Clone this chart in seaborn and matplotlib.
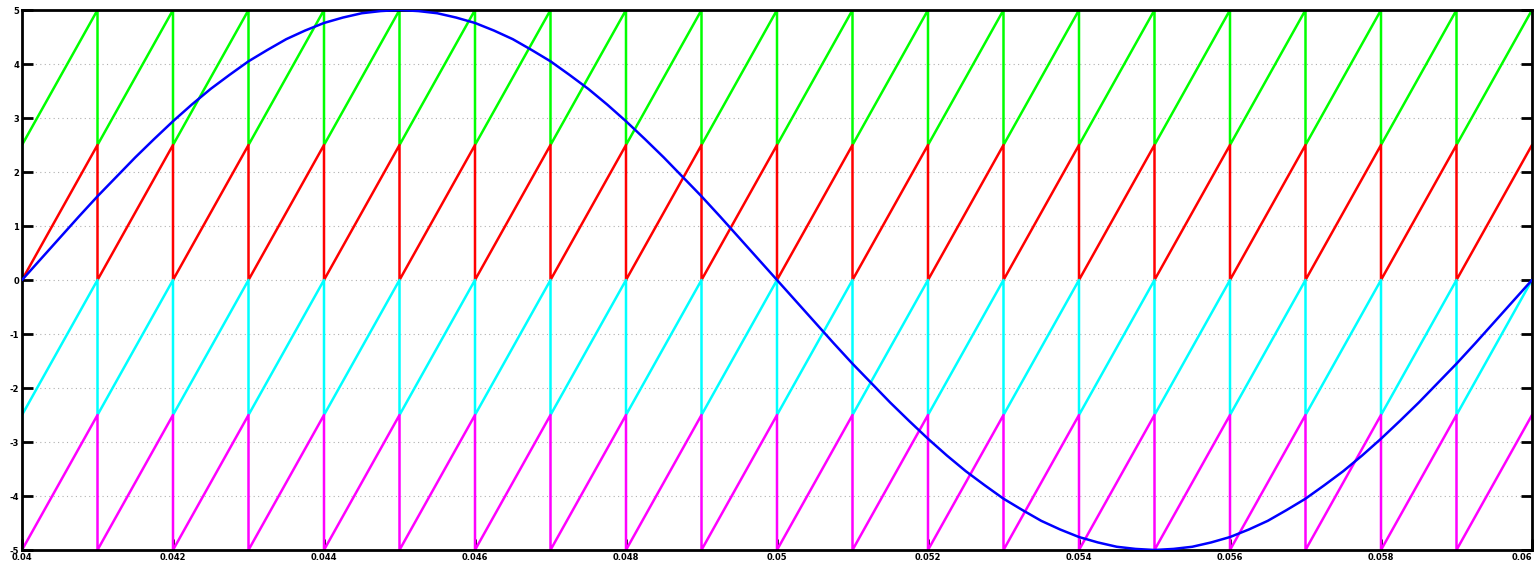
import numpy as np
import pandas as pd
import matplotlib
matplotlib.use("Agg")
import matplotlib.pyplot as plt
import seaborn as sns

# ---- data ----
# carrier reset instants (s)
carrier_times = [0.040, 0.041, 0.042, 0.043, 0.044, 0.045, 0.046, 0.047, 0.048, 0.049,
                 0.050, 0.051, 0.052, 0.053, 0.054, 0.055, 0.056, 0.057, 0.058, 0.059, 0.060]
# carrier bands (lower, upper) and colours
carrier_low = [2.5, 0.0, -2.5, -5.0]
carrier_high = [5.0, 2.5, 0.0, -2.5]
carrier_colors = ["#00ff00", "#ff0000", "#00ffff", "#ff00ff"]

# reference (modulating) signal sampled every 0.25 ms, 0.040 s .. 0.060 s
ref_t0 = 0.040
ref_dt = 0.00025
ref_values = [0.00, 0.39, 0.78, 1.17, 1.55, 1.91, 2.27, 2.61, 2.94, 3.25,
              3.54, 3.80, 4.05, 4.26, 4.46, 4.62, 4.76, 4.86, 4.94, 4.98,
              5.00, 4.98, 4.94, 4.86, 4.76, 4.62, 4.46, 4.26, 4.05, 3.80,
              3.54, 3.25, 2.94, 2.61, 2.27, 1.91, 1.55, 1.17, 0.78, 0.39,
              0.00, -0.39, -0.78, -1.17, -1.55, -1.91, -2.27, -2.61, -2.94, -3.25,
              -3.54, -3.80, -4.05, -4.26, -4.46, -4.62, -4.76, -4.86, -4.94, -4.98,
              -5.00, -4.98, -4.94, -4.86, -4.76, -4.62, -4.46, -4.26, -4.05, -3.80,
              -3.54, -3.25, -2.94, -2.61, -2.27, -1.91, -1.55, -1.17, -0.78, -0.39,
              0.00]

x_ticks = [0.040, 0.042, 0.044, 0.046, 0.048, 0.050, 0.052, 0.054, 0.056, 0.058, 0.060]
x_tick_labels = ["0.04", "0.042", "0.044", "0.046", "0.048", "0.05",
                 "0.052", "0.054", "0.056", "0.058", "0.06"]
y_ticks = [-5, -4, -3, -2, -1, 0, 1, 2, 3, 4, 5]

# ---- plot ----
sns.set_style("white")
fig = plt.figure(figsize=(15.39, 5.67), dpi=100)
ax = fig.add_axes([22 / 1539, 17 / 567, 1510 / 1539, 540 / 567])

for lo, hi, col in zip(carrier_low, carrier_high, carrier_colors):
    xs, ys = [], []
    for i in range(len(carrier_times) - 1):
        xs += [carrier_times[i], carrier_times[i + 1]]
        ys += [lo, hi]
    df = pd.DataFrame({"t": xs, "v": ys})
    sns.lineplot(data=df, x="t", y="v", sort=False, estimator=None,
                 color=col, linewidth=1.8, ax=ax)

ref_times = [ref_t0 + i * ref_dt for i in range(len(ref_values))]
df_ref = pd.DataFrame({"t": ref_times, "v": ref_values})
sns.lineplot(data=df_ref, x="t", y="v", sort=False, estimator=None,
             color="#0000ff", linewidth=1.8, ax=ax, zorder=5)

ax.set_xlim(0.040, 0.060)
ax.set_ylim(-5, 5)
ax.set_xticks(x_ticks)
ax.set_xticklabels(x_tick_labels)
ax.set_yticks(y_ticks)
ax.set_yticklabels([str(v) for v in y_ticks])
ax.set_xlabel("")
ax.set_ylabel("")

ax.yaxis.grid(True, linestyle=(0, (1, 3)), color="#b0b0b0", linewidth=0.8)
ax.xaxis.grid(False)
ax.set_axisbelow(True)

for s in ax.spines.values():
    s.set_color("black")
    s.set_linewidth(2.0)

ax.tick_params(axis="both", which="both", direction="in", length=8, width=2,
               labelsize=6, pad=2, colors="black",
               top=False, right=True, left=True, bottom=True)
for lab in ax.get_xticklabels() + ax.get_yticklabels():
    lab.set_fontweight("bold")
# keep the last x label inside the canvas
ax.get_xticklabels()[-1].set_horizontalalignment("right")

fig.savefig("out.png", dpi=100)
